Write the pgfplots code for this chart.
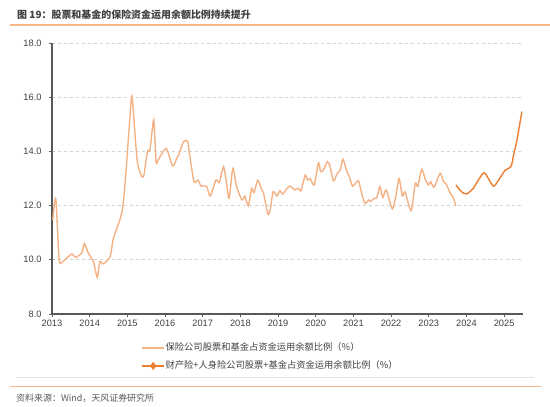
\documentclass[border=0pt]{standalone}
\usepackage{fontspec}
\setmainfont{Liberation Sans}
\newfontfamily\cjk{Noto Sans CJK SC}
\usepackage{pgfplots}
\pgfplotsset{compat=1.18}
\usetikzlibrary{shapes.geometric}
\definecolor{lightor}{HTML}{F4B183}
\definecolor{darkor}{HTML}{ED7D31}
\definecolor{rulecol}{HTML}{F7B98C}
\definecolor{axcol}{HTML}{595959}
\definecolor{txtcol}{HTML}{404040}
\begin{document}
\begin{tikzpicture}
\useasboundingbox (0,0) rectangle (550bp,407bp);
\node[anchor=west, inner sep=0pt, text=txtcol, font=\cjk\bfseries\fontsize{10}{12}\selectfont] at (17bp,392bp) {图 19：股票和基金的保险资金运用余额比例持续提升};
\draw[rulecol, line width=1.5bp] (10bp,382bp) -- (550bp,382bp);
\draw[gray!20, line width=0.8bp] (16bp,29.3bp) -- (534bp,29.3bp);
\draw[rulecol, line width=1.5bp] (10bp,20.3bp) -- (541bp,20.3bp);
\node[anchor=west, inner sep=0pt, text=axcol, font=\cjk\fontsize{9}{11}\selectfont] at (16bp,9bp) {资料来源：Wind，天风证券研究所};
\begin{axis}[
  at={(52bp,93bp)}, anchor=south west,
  scale only axis, width=471bp, height=271bp,
  xmin=2013, xmax=2025.5, ymin=8, ymax=18,
  xtick={2013,2014,...,2025}, ytick={8,10,...,18},
  axis x line*=bottom, axis y line*=left,
  axis line style={color=axcol, line width=1.2bp},
  tick align=outside, major tick length=3bp,
  tick style={color=axcol, line width=0.8bp},
  ymajorgrids, grid style={dashed, color=gray!35, line width=0.7bp},
  yticklabel style={xshift=-4bp, /pgf/number format/.cd, fixed, fixed zerofill, precision=1},
  xticklabel style={/pgf/number format/1000 sep={}},
  /pgf/number format/assume math mode=true,
  ticklabel style={font=\fontsize{9.3}{10}\selectfont, text=txtcol},
  legend style={at={(axis description cs:0.19,-0.104)}, anchor=north west,
    draw=none, fill=none, inner sep=0pt, row sep=7bp,
    font=\cjk\fontsize{9.3}{11}\selectfont, text=txtcol,
    nodes={inner sep=1bp, text height=7bp, text depth=2bp}},
  legend cell align=left,
]
\addplot[lightor, line width=1.4bp, smooth, tension=0.4,
  legend image code/.code={\draw[lightor, line width=1.4bp] (0bp,0bp) -- (21.6bp,0bp);}]
coordinates {
(2013.02,11.47) (2013.10,12.27) (2013.19,10.00) (2013.28,9.93) (2013.52,10.21)
(2013.63,10.09) (2013.79,10.26) (2013.86,10.60) (2013.96,10.26) (2014.10,9.93)
(2014.20,9.35) (2014.27,9.93) (2014.36,9.85) (2014.54,10.11) (2014.63,10.79)
(2014.80,11.47) (2014.88,11.96) (2014.96,13.19) (2015.05,14.91) (2015.12,16.04)
(2015.20,14.67) (2015.27,13.56) (2015.38,13.07) (2015.44,13.13) (2015.51,13.80)
(2015.54,14.03) (2015.60,14.06) (2015.70,15.16) (2015.76,13.62) (2015.82,13.69)
(2016.03,14.11) (2016.20,13.46) (2016.31,13.74) (2016.36,13.86) (2016.49,14.36)
(2016.60,14.36) (2016.66,13.80) (2016.77,12.88) (2016.87,12.94) (2016.96,12.72)
(2017.10,12.72) (2017.20,12.35) (2017.35,12.94) (2017.44,12.85) (2017.55,13.44)
(2017.62,12.94) (2017.70,12.27) (2017.80,13.38) (2017.90,12.70) (2018.04,12.21)
(2018.12,12.35) (2018.21,11.99) (2018.30,12.64) (2018.36,12.48) (2018.46,12.94)
(2018.55,12.64) (2018.61,12.48) (2018.73,11.69) (2018.79,11.84) (2018.87,12.51)
(2018.97,12.35) (2019.05,12.55) (2019.12,12.43) (2019.30,12.72) (2019.45,12.58)
(2019.54,12.64) (2019.61,12.55) (2019.72,13.13) (2019.78,12.94) (2019.85,13.00)
(2019.96,12.76) (2020.07,13.58) (2020.13,13.25) (2020.20,13.31) (2020.31,13.62)
(2020.38,13.44) (2020.47,12.91) (2020.57,13.19) (2020.65,13.31) (2020.72,13.71)
(2020.82,13.29) (2020.89,13.07) (2020.98,12.72) (2021.13,12.92) (2021.22,12.43)
(2021.31,12.08) (2021.40,12.21) (2021.45,12.15) (2021.55,12.27) (2021.62,12.29)
(2021.70,12.70) (2021.78,12.30) (2021.87,12.58) (2022.03,11.88) (2022.13,12.39)
(2022.21,13.00) (2022.30,12.35) (2022.37,12.51) (2022.53,11.81) (2022.64,12.82)
(2022.71,12.70) (2022.81,13.34) (2022.90,13.00) (2022.99,12.76) (2023.05,12.88)
(2023.14,12.68) (2023.30,13.19) (2023.39,12.88) (2023.46,12.80) (2023.57,12.45)
(2023.64,12.33) (2023.72,11.99)
};
\addlegendentry{保险公司股票和基金占资金运用余额比例（\%）}
\addplot[darkor, line width=1.4bp, smooth, tension=0.5,
  legend image code/.code={\draw[darkor, line width=1.4bp] (0bp,0bp) -- (21.6bp,0bp);
    \draw[darkor, fill=darkor, mark=diamond*, mark size=3bp] plot coordinates {(10.8bp,0bp)};}]
coordinates {
(2023.72,12.76) (2023.87,12.51) (2024.00,12.43) (2024.18,12.64) (2024.34,13.00)
(2024.47,13.21) (2024.58,13.00) (2024.72,12.72) (2024.85,12.94) (2025.03,13.31)
(2025.18,13.44) (2025.26,13.93) (2025.34,14.42) (2025.47,15.47)
};
\addlegendentry{财产险+人身险公司股票+基金占资金运用余额比例（\%）}
\end{axis}
\end{tikzpicture}
\end{document}
